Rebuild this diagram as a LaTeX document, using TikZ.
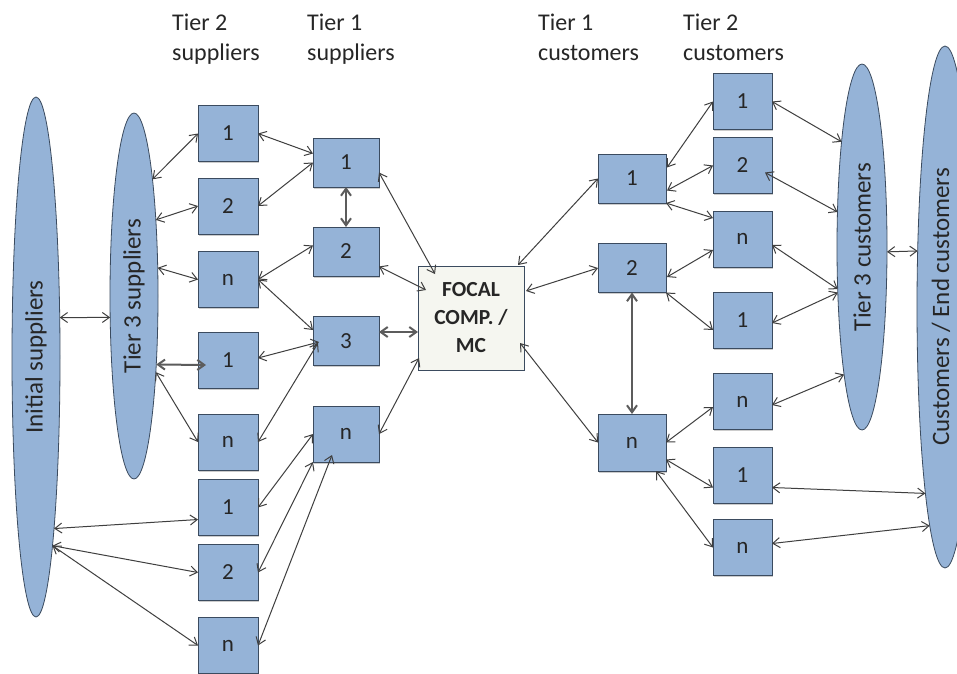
\documentclass[tikz,border=0pt]{standalone}
\usepackage{fontspec}
\setmainfont{Carlito}
\usetikzlibrary{arrows.meta,calc,shadows,shapes.geometric}

\definecolor{boxblue}{HTML}{95B3D7}
\definecolor{boxline}{HTML}{3B4B5F}
\definecolor{linkgray}{HTML}{3F3F3F}
\definecolor{textgray}{HTML}{262626}
\definecolor{focalfill}{HTML}{F5F6F0}

\tikzset{
  box/.style={rectangle, draw=boxline, line width=1pt, fill=boxblue,
    minimum width=60, minimum height=56, inner sep=0, outer sep=0,
    font=\fontsize{23}{23}\selectfont, text=textgray,
    drop shadow={shadow xshift=1pt, shadow yshift=-1.5pt, opacity=0.4}},
  tiertwo/.style={box, minimum width=60, minimum height=56},
  tierone/.style={box, minimum width=66, minimum height=49},
  custone/.style={box, minimum width=68, minimum height=49},
  custtwo/.style={box, minimum width=59, minimum height=56},
  focalbox/.style={rectangle, draw=boxline, line width=1pt, fill=focalfill,
    minimum width=106, minimum height=104, inner sep=0, outer sep=0,
    align=center, text=textgray, font=\bfseries\fontsize{21.5}{28}\selectfont},
  ell/.style={ellipse, draw=boxline, line width=0.8pt, fill=boxblue,
    inner sep=0, outer sep=0},
  elltext/.style={rotate=90, font=\fontsize{25}{25}\selectfont, text=textgray, inner sep=0},
  head/.style={font=\fontsize{24}{30}\selectfont, text=textgray, inner sep=0, anchor=base west},
  link/.style={draw=linkgray, line width=1pt,
    {Straight Barb[length=7pt,width=10pt]}-{Straight Barb[length=7pt,width=10pt]}},
  heavy/.style={link, line width=2pt, draw=linkgray!85}
}

\begin{document}
\begin{tikzpicture}[x=1pt, y=-1pt]
\clip (0,0) rectangle (957,673);
\fill[white] (0,0) rectangle (957,673);

% column headings
\node[head] (hs2a) at (172,30) {Tier 2};
\node[head] (hs2b) at (172,60) {suppliers};
\node[head] (hs1a) at (307,30) {Tier 1};
\node[head] (hs1b) at (307,60) {suppliers};
\node[head] (hc1a) at (538,30) {Tier 1};
\node[head] (hc1b) at (538,60) {customers};
\node[head] (hc2a) at (683,30) {Tier 2};
\node[head] (hc2b) at (683,60) {customers};

% outer ellipses
\node[ell, minimum width=48, minimum height=520] (ini) at (36,357) {};
\node[elltext] (inilab) at (ini) {Initial suppliers};
\node[ell, minimum width=48, minimum height=366] (t3s) at (134,296) {};
\node[elltext] (t3slab) at (t3s) {Tier 3 suppliers};
\node[ell, minimum width=50, minimum height=366] (t3c) at (862,247) {};
\node[elltext] (t3clab) at (t3c) {Tier 3 customers};
\node[ell, minimum width=56, minimum height=522] (endc) at (945,307) {};
\node[elltext] (endclab) at (941,307) {Customers / End customers};

% tier 2 suppliers
\node[tiertwo] (sa) at (228,133.5) {1};
\node[tiertwo] (sb) at (228,206) {2};
\node[tiertwo] (sc) at (228,279.5) {n};
\node[tiertwo] (sd) at (228,360) {1};
\node[tiertwo] (se) at (228,442) {n};
\node[tiertwo] (sf) at (228,507.5) {1};
\node[tiertwo] (sg) at (228,572.5) {2};
\node[tiertwo] (sh) at (228,645.5) {n};

% tier 1 suppliers
\node[tierone] (ta) at (346,162.5) {1};
\node[tierone] (tb) at (346,251.5) {2};
\node[tierone] (tc) at (346,341) {3};
\node[tierone, minimum height=56] (tn) at (346,434) {n};

% focal company
\node[focalbox] (focal) at (471,318) {FOCAL\\COMP. /\\MC};

% tier 1 customers
\node[custone] (ca) at (632,178.5) {1};
\node[custone] (cb) at (632,268) {2};
\node[custone, minimum height=57] (cn) at (632,442.5) {n};

% tier 2 customers
\node[custtwo] (da) at (742.5,101.5) {1};
\node[custtwo] (db) at (742.5,165.5) {2};
\node[custtwo] (dc) at (742.5,239) {n};
\node[custtwo] (dd) at (742.5,320) {1};
\node[custtwo] (de) at (742.5,401.5) {n};
\node[custtwo] (df) at (742.5,475.5) {1};
\node[custtwo] (dg) at (742.5,547.5) {n};

% supplier side links
\draw[link] (ini.59.4) -- (t3s.-138.6);
\draw[link] (t3s.81.3) -- (sa.west);
\draw[link] (t3s.74.2) -- (sb.west);
\draw[link] (t3s.50.7) -- (sc.west);
\draw[heavy] (t3s.-72.2) -- ($(sd.west)+(8,5)$);
\draw[link] (t3s.-74) -- (se.west);
\draw[link] (ini.-84.4) -- ($(sf.west)+(0,12)$);
\draw[link] (ini.-85.3) -- (sg.west);
\draw[link] (ini.-85.3) -- (sh.west);

\draw[link] (sa.east) -- ($(ta.west)+(0,-9)$);
\draw[link] (sb.east) -- (ta.west);
\draw[heavy] (ta.south) -- (tb.north);
\draw[link] (sc.east) -- ($(tb.west)+(0,-6)$);
\draw[link] (sc.east) -- ($(tc.west)+(0,-11)$);
\draw[link] ($(sd.east)+(0,-2)$) -- ($(tc.west)+(6,1)$);
\draw[link] (se.east) -- ($(tc.west)+(5,2)$);
\draw[link] (sf.east) -- (tn.west);
\draw[link] (sg.east) -- (tn.south west);
\draw[link] (sh.east) -- ($(tn.south west)+(19,-7)$);

% links into the focal company
\draw[link] ($(ta.east)+(0,10)$) -- ($(focal.north west)+(17,8)$);
\draw[link] ($(tb.east)+(0,15)$) -- ($(focal.west)+(8,-28)$);
\draw[heavy] ($(tc.east)+(0,-9)$) -- ($(focal.west)+(0,14)$);
\draw[link] (tn.east) -- ($(focal.south west)+(1,-12)$);

% customer side links
\draw[link] ($(focal.north east)+(-6,-1)$) -- (ca.west);
\draw[link] ($(focal.east)+(2,-27)$) -- (cb.west);
\draw[link] ($(focal.east)+(-4,25)$) -- (cn.west);
\draw[heavy] (cb.south) -- (cn.north);

\draw[link] ($(ca.east)+(1,-11)$) -- (da.west);
\draw[link] ($(ca.east)+(1,12)$) -- (db.west);
\draw[link] (ca.south east) -- ($(dc.west)+(0,-21)$);
\draw[link] ($(cb.east)+(1,9)$) -- ($(dc.west)+(0,11)$);
\draw[link] (cb.south east) -- ($(dd.west)+(0,10)$);
\draw[link] (cn.east) -- ($(de.west)+(0,5.5)$);
\draw[link] ($(cn.east)+(0,17)$) -- ($(df.west)+(0,12)$);
\draw[link] ($(cn.south east)+(-10,0)$) -- (dg.west);

\draw[link] (da.east) -- (t3c.101.5);
\draw[link] ($(db.east)+(-7,7)$) -- (t3c.125.8);
\draw[link] ($(dc.east)+(0,6)$) -- (t3c.-120.7);
\draw[link] ($(dd.east)+(0,3)$) -- (t3c.-118.3);
\draw[link] ($(de.east)+(0,3.5)$) -- (t3c.-98.2);
\draw[link] (t3c.-11.3) -- (endc.116.5);
\draw[link] ($(df.east)+(0,12)$) -- (endc.-96.1);
\draw[link] ($(dg.east)+(0,-4)$) -- (endc.-94);
\end{tikzpicture}
\end{document}
